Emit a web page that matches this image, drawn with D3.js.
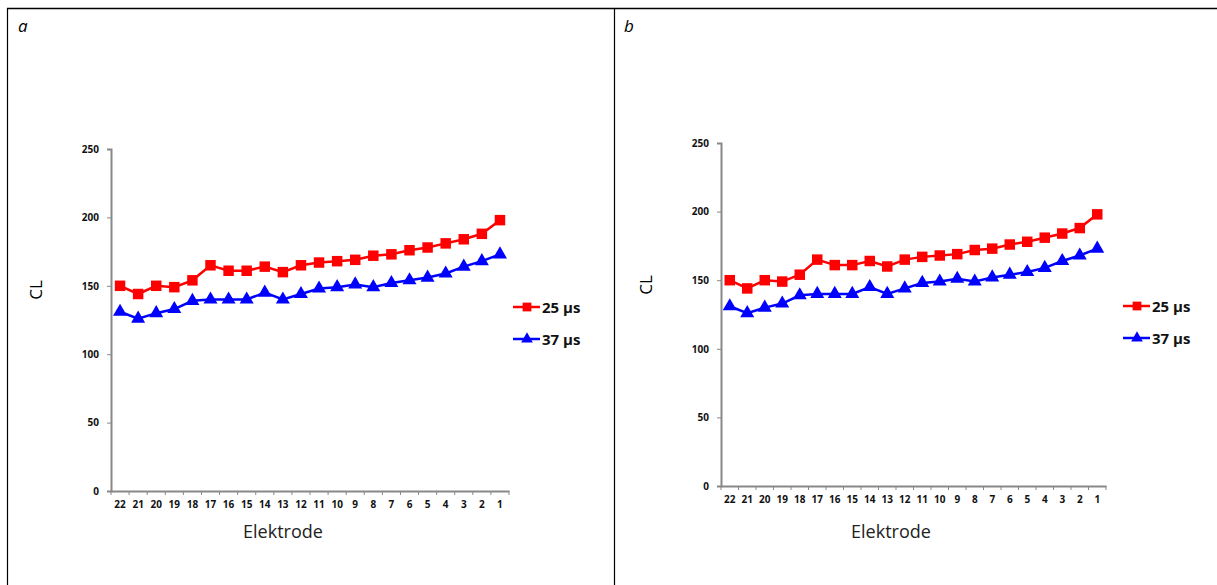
<!DOCTYPE html>
<html>
<head>
<meta charset="utf-8">
<script src="https://cdn.jsdelivr.net/npm/d3@7"></script>
<style>
  body { margin: 0; background: #fff; }
  svg { display: block; }
  text { font-family: "Open Sans", "Noto Sans", sans-serif; }
</style>
</head>
<body>
<script>

var electrodes = ["22","21","20","19","18","17","16","15","14","13","12","11","10","9","8","7","6","5","4","3","2","1"];
var cl25 = [150,144,150,149,154,165,161,161,164,160,165,167,168,169,172,173,176,178,181,184,188,198];
var cl37 = [131,126,130,133,139,140,140,140,145,140,144,148,149,151,149,152,154,156,159,164,168,173];
var yTicks = [0,50,100,150,200,250];
var seriesNames = ["25 µs","37 µs"];

var svg = d3.select("body").append("svg")
    .attr("width", 1217)
    .attr("height", 585);

// table borders
svg.append("line").attr("x1", 7).attr("x2", 1217).attr("y1", 8.5).attr("y2", 8.5)
  .attr("stroke", "#000").attr("stroke-width", 1.5);
svg.append("line").attr("x1", 7.5).attr("x2", 7.5).attr("y1", 8).attr("y2", 585)
  .attr("stroke", "#000").attr("stroke-width", 1.2);
svg.append("line").attr("x1", 614.5).attr("x2", 614.5).attr("y1", 8).attr("y2", 585)
  .attr("stroke", "#000").attr("stroke-width", 1.2);

var panels = [
  { label: "a", lx: 18, x0: 111, x1: 509, y0: 491, y1: 149, clx: 42, cly: 290, ex: 283, legx: 513, legy: 307 },
  { label: "b", lx: 624, x0: 721, x1: 1106, y0: 486, y1: 143, clx: 652, cly: 285, ex: 891, legx: 1123, legy: 306 }
];

panels.forEach(function(p) {

  svg.append("text").attr("x", p.lx).attr("y", 32)
    .style("font-style", "italic").style("font-size", "17px").text(p.label);

  var x = d3.scaleBand().domain(electrodes).range([p.x0, p.x1]);
  var y = d3.scaleLinear().domain([0, 250]).range([p.y0, p.y1]);

  var g = svg.append("g");

  var yAxis = g.append("g").attr("transform", "translate(" + p.x0 + ",0)")
    .call(d3.axisLeft(y).tickValues(yTicks).tickSize(4).tickPadding(8));
  var xAxis = g.append("g").attr("transform", "translate(0," + p.y0 + ")")
    .call(d3.axisBottom(x).tickSize(0).tickPadding(10));

  // ticks at band edges
  xAxis.selectAll(".edge").data(electrodes.concat([null])).enter().append("line")
    .attr("class", "edge")
    .attr("x1", function(d, i) { return p.x0 + i * x.step(); })
    .attr("x2", function(d, i) { return p.x0 + i * x.step(); })
    .attr("y1", 0).attr("y2", 4)
    .attr("stroke", "#888");

  [yAxis, xAxis].forEach(function(a) {
    a.select(".domain").attr("stroke", "#888").attr("stroke-width", 2);
    a.selectAll(".tick line").attr("stroke", "#888");
    a.selectAll("text").style("font-size", "10px").style("font-weight", "bold")
      .style("font-family", "'Open Sans', sans-serif").attr("fill", "#111");
  });

  svg.append("text")
    .attr("transform", "translate(" + p.clx + "," + p.cly + ") rotate(-90)")
    .attr("text-anchor", "middle").style("font-size", "17px").text("CL");

  svg.append("text").attr("x", p.ex).attr("y", 538)
    .attr("text-anchor", "middle").style("font-size", "18px").attr("fill", "#222").text("Elektrode");

  var line = d3.line()
    .x(function(d, i) { return x(electrodes[i]) + x.bandwidth() / 2; })
    .y(function(d) { return y(d); });

  var series = [
    { vals: cl25, color: "#ff0000", sym: d3.symbolSquare, size: 110 },
    { vals: cl37, color: "#0000ff", sym: d3.symbolTriangle, size: 85 }
  ];

  series.forEach(function(s, si) {
    g.append("path").datum(s.vals).attr("d", line)
      .attr("fill", "none").attr("stroke", s.color).attr("stroke-width", 2.5);
    g.selectAll(".m" + si).data(s.vals).enter().append("path")
      .attr("class", "m" + si)
      .attr("transform", function(d, i) {
        return "translate(" + (x(electrodes[i]) + x.bandwidth() / 2) + "," + y(d) + ")";
      })
      .attr("d", d3.symbol().type(s.sym).size(s.size))
      .attr("fill", s.color);

    var ly = p.legy + si * 32;
    svg.append("line").attr("x1", p.legx).attr("x2", p.legx + 27)
      .attr("y1", ly).attr("y2", ly).attr("stroke", s.color).attr("stroke-width", 2.5);
    svg.append("path").attr("transform", "translate(" + (p.legx + 14) + "," + ly + ")")
      .attr("d", d3.symbol().type(s.sym).size(s.size * 0.7)).attr("fill", s.color);
    svg.append("text").attr("x", p.legx + 29).attr("y", ly + 6)
      .style("font-size", "15px").style("font-weight", "bold").attr("fill", "#111")
      .text(seriesNames[si]);
  });
});

</script>
</body>
</html>
